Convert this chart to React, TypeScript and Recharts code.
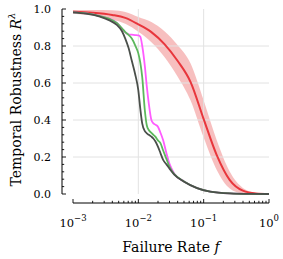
import { ComposedChart, Line, Area, XAxis, YAxis, ReferenceLine } from 'recharts';

// red model: mean with shaded spread
const redRate = [0.001, 0.001995, 0.003981, 0.00631, 0.01, 0.01585, 0.02512, 0.03981, 0.0631, 0.1, 0.1585, 0.2512, 0.3981, 0.631, 1];
const redMean = [0.985, 0.98, 0.968, 0.952, 0.917, 0.875, 0.81, 0.72, 0.605, 0.405, 0.21, 0.075, 0.018, 0.003, 0];
const redLow = [0.975, 0.965, 0.943, 0.92, 0.877, 0.82, 0.74, 0.635, 0.505, 0.305, 0.13, 0.03, 0.003, 0, 0];
const redHigh = [0.995, 0.995, 0.993, 0.984, 0.957, 0.93, 0.88, 0.805, 0.705, 0.505, 0.29, 0.12, 0.033, 0.006, 0];

// the other three curves share one grid of failure rates
const rate = [
  0.001, 0.001585, 0.002512, 0.003548, 0.004677, 0.005623, 0.00631, 0.007079, 0.007943, 0.008913,
  0.01, 0.01072, 0.01148, 0.01259, 0.01349, 0.01445, 0.01585, 0.01698, 0.0182, 0.01995,
  0.02188, 0.02399, 0.02692, 0.0302, 0.03548, 0.05012, 0.07943, 0.1259, 0.2512, 0.5012, 1,
];
const magentaCurve = [
  0.982, 0.976, 0.963, 0.948, 0.925, 0.893, 0.875, 0.863, 0.861, 0.859,
  0.857, 0.85, 0.8, 0.69, 0.58, 0.49, 0.4, 0.382, 0.375, 0.364,
  0.33, 0.29, 0.22, 0.16, 0.11, 0.068, 0.032, 0.013, 0.003, 0.0005, 0,
];
const greenCurve = [
  0.982, 0.976, 0.963, 0.948, 0.925, 0.896, 0.875, 0.86, 0.84, 0.805,
  0.76, 0.71, 0.63, 0.45, 0.37, 0.346, 0.33, 0.32, 0.31, 0.29,
  0.274, 0.235, 0.19, 0.145, 0.108, 0.068, 0.032, 0.013, 0.003, 0.0005, 0,
];
const grayCurve = [
  0.982, 0.975, 0.96, 0.94, 0.914, 0.88, 0.84, 0.79, 0.72, 0.65,
  0.56, 0.46, 0.38, 0.34, 0.328, 0.32, 0.31, 0.3, 0.285, 0.256,
  0.22, 0.184, 0.16, 0.135, 0.105, 0.066, 0.032, 0.013, 0.003, 0.0005, 0,
];

const xTicks = [
  0.001, 0.002, 0.003, 0.004, 0.005, 0.006, 0.007, 0.008, 0.009,
  0.01, 0.02, 0.03, 0.04, 0.05, 0.06, 0.07, 0.08, 0.09,
  0.1, 0.2, 0.3, 0.4, 0.5, 0.6, 0.7, 0.8, 0.9, 1,
];
const xMajor = [0.001, 0.01, 0.1, 1];
const yTicks = [
  0, 0.04, 0.08, 0.12, 0.16, 0.2, 0.24, 0.28, 0.32, 0.36, 0.4, 0.44, 0.48,
  0.52, 0.56, 0.6, 0.64, 0.68, 0.72, 0.76, 0.8, 0.84, 0.88, 0.92, 0.96, 1,
];
const yMajor = [0, 0.2, 0.4, 0.6, 0.8, 1];
const gridY = [0.2, 0.4, 0.6, 0.8];
const gridX = [0.01, 0.1];

const redData = redRate.map((f, i) => ({ f, mean: redMean[i], band: [redLow[i], redHigh[i]] }));
const curveData = rate.map((f, i) => ({ f, magenta: magentaCurve[i], green: greenCurve[i], gray: grayCurve[i] }));

const FONT = '"DejaVu Serif", serif';
const isMajor = (list: number[], v: number) => list.some((m) => Math.abs(m - v) < 1e-9);

function XTick(props: any) {
  const { x, y, payload } = props;
  const major = isMajor(xMajor, payload.value);
  const exp = Math.round(Math.log10(payload.value));
  return (
    <g>
      <line x1={x} x2={x} y1={y} y2={y - (major ? 4 : 2.2)} stroke="#000" strokeWidth={0.9} />
      {major && (
        <text x={x} y={y + 24} textAnchor="middle" fontFamily={FONT} fontSize={11.5} fill="#000">
          10
          <tspan dy={-6} fontSize={8.5}>{exp === 0 ? '0' : '\u2212' + Math.abs(exp)}</tspan>
        </text>
      )}
    </g>
  );
}

function YTick(props: any) {
  const { x, y, payload } = props;
  const major = isMajor(yMajor, payload.value);
  return (
    <g>
      <line x1={x} x2={x + (major ? 4 : 2.2)} y1={y} y2={y} stroke="#000" strokeWidth={0.9} />
      {major && (
        <text x={x - 11} y={y} dy="0.36em" textAnchor="end" fontFamily={FONT} fontSize={11} fill="#000">
          {payload.value.toFixed(1)}
        </text>
      )}
    </g>
  );
}

const ids = { xAxisId: 'spine', yAxisId: 'spine' };

export default function App() {
  return (
    <div style={{ position: 'absolute', left: 0, top: 0, background: '#fff' }}>
      <ComposedChart width={283} height={259} margin={{ top: 9, right: 14, bottom: 0, left: 0 }}>
        {/* empty axes that only leave the gap between plot and offset spines */}
        <XAxis xAxisId="gap" type="number" domain={[0, 1]} height={9} axisLine={false} tickLine={false} tick={false} />
        <XAxis
          xAxisId="spine"
          dataKey="f"
          type="number"
          scale="log"
          domain={[0.001, 1]}
          allowDataOverflow
          height={56}
          ticks={xTicks}
          interval={0}
          tickSize={0}
          tickMargin={0}
          tickLine={false}
          tick={(p: any) => <XTick {...p} />}
          axisLine={{ stroke: '#000', strokeWidth: 1 }}
          label={{
            content: ({ viewBox }: any) => (
              <text
                x={viewBox.x + viewBox.width / 2}
                y={viewBox.y + 49}
                textAnchor="middle"
                fontFamily={FONT}
                fontSize={14}
                fill="#000"
              >
                Failure Rate <tspan fontStyle="italic">f</tspan>
              </text>
            ),
          }}
        />
        <YAxis yAxisId="gap" type="number" domain={[0, 1]} width={11} axisLine={false} tickLine={false} tick={false} />
        <YAxis
          yAxisId="spine"
          type="number"
          domain={[0, 1]}
          width={62}
          ticks={yTicks}
          interval={0}
          tickSize={0}
          tickMargin={0}
          tickLine={false}
          tick={(p: any) => <YTick {...p} />}
          axisLine={{ stroke: '#000', strokeWidth: 1 }}
          label={{
            content: ({ viewBox }: any) => {
              const cx = 21;
              const cy = viewBox.y + viewBox.height / 2 - 2;
              return (
                <text
                  x={cx}
                  y={cy}
                  transform={`rotate(-90, ${cx}, ${cy})`}
                  textAnchor="middle"
                  fontFamily={FONT}
                  fontSize={14}
                  fill="#000"
                >
                  Temporal Robustness <tspan fontStyle="italic">R</tspan>
                  <tspan dy={-6} fontSize={10} fontStyle="italic">λ</tspan>
                </text>
              );
            },
          }}
        />
        {gridY.map((v) => (
          <ReferenceLine key={'gy' + v} {...ids} y={v} stroke="#e2e2e2" strokeWidth={1} />
        ))}
        {gridX.map((v) => (
          <ReferenceLine key={'gx' + v} {...ids} x={v} stroke="#e2e2e2" strokeWidth={1} />
        ))}
        <Area
          {...ids}
          data={redData}
          dataKey="band"
          type="monotone"
          stroke="none"
          fill="#f08a8a"
          fillOpacity={0.55}
          isAnimationActive={false}
        />
        <Line {...ids} data={redData} dataKey="mean" type="monotone" stroke="#e8363c" strokeWidth={2} dot={false} isAnimationActive={false} />
        <Line {...ids} data={curveData} dataKey="magenta" type="monotone" stroke="#ff5cff" strokeWidth={1.8} dot={false} isAnimationActive={false} />
        <Line {...ids} data={curveData} dataKey="green" type="monotone" stroke="#5cb85c" strokeWidth={1.8} dot={false} isAnimationActive={false} />
        <Line {...ids} data={curveData} dataKey="gray" type="monotone" stroke="#4a4f4a" strokeWidth={1.8} dot={false} isAnimationActive={false} />
      </ComposedChart>
    </div>
  );
}
